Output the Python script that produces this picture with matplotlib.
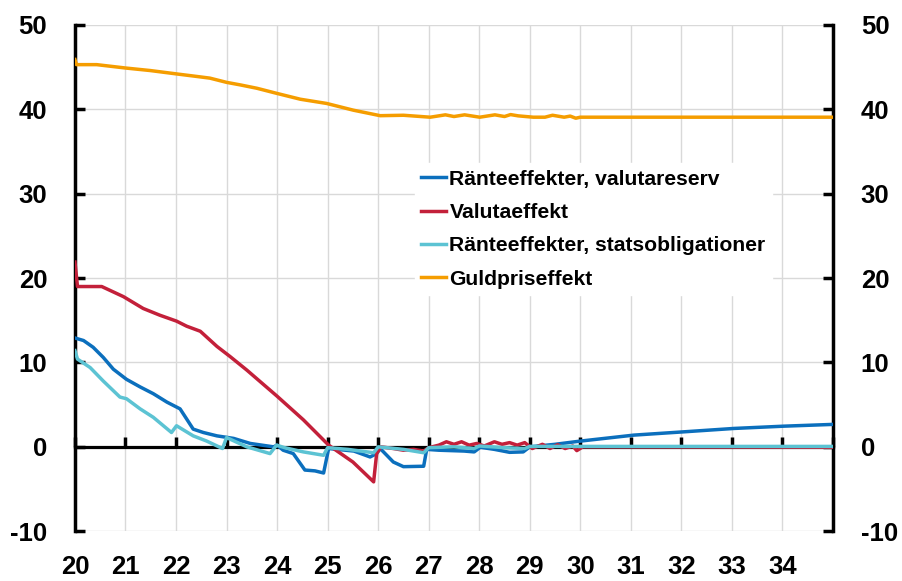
import matplotlib
matplotlib.use("Agg")
import matplotlib.pyplot as plt

plt.rcParams["font.family"] = ["Liberation Sans", "DejaVu Sans"]
plt.rcParams["font.weight"] = "bold"
plt.rcParams["axes.unicode_minus"] = False

# Series (x = year, 20 = 2020)
blue_x = [20.0, 20.17, 20.36, 20.56, 20.76, 21.02, 21.29, 21.55, 21.82, 22.08,
          22.34, 22.54, 22.81, 23.14, 23.47, 23.93, 24.0, 24.12, 24.32, 24.55,
          24.75, 24.92, 25.02, 25.52, 25.84, 25.97, 26.04, 26.30, 26.5, 26.9,
          26.96, 27.2, 27.45, 27.7, 27.9, 28.02, 28.3, 28.6, 28.87, 29.0,
          29.5, 30.0, 31.06, 32.05, 33.04, 34.03, 35.0]
blue_y = [12.9, 12.6, 11.8, 10.6, 9.2, 8.0, 7.1, 6.3, 5.3, 4.5,
          2.1, 1.7, 1.3, 1.0, 0.4, 0.0, 0.2, -0.4, -0.8, -2.75,
          -2.85, -3.1, -0.2, -0.5, -1.2, -0.8, -0.2, -1.8, -2.35, -2.3,
          -0.3, -0.4, -0.45, -0.5, -0.6, -0.05, -0.3, -0.65, -0.6, 0.0,
          0.3, 0.68, 1.39, 1.78, 2.18, 2.45, 2.66]

red_x = [20.0, 20.05, 20.53, 20.96, 21.35, 21.68, 22.01, 22.21, 22.48, 22.81,
         23.07, 23.40, 24.0, 24.52, 25.02, 25.5, 25.91, 25.97, 26.05, 26.3,
         26.5, 26.7, 26.9, 27.0, 27.2, 27.35, 27.5, 27.65, 27.8, 27.95,
         28.1, 28.3, 28.45, 28.6, 28.75, 28.9, 29.05, 29.25, 29.4, 29.55,
         29.7, 29.85, 29.93, 30.05, 35.0]
red_y = [21.9, 19.0, 19.0, 17.8, 16.4, 15.6, 14.9, 14.3, 13.7, 11.9,
         10.7, 9.1, 6.0, 3.2, 0.2, -1.8, -4.15, -0.8, 0.0, -0.2,
         -0.4, -0.3, -0.5, -0.1, 0.2, 0.6, 0.3, 0.6, 0.2, 0.4,
         0.1, 0.6, 0.3, 0.5, 0.2, 0.5, -0.2, 0.3, -0.2, 0.25,
         -0.2, 0.1, -0.45, 0.0, -0.05]

cyan_x = [20.0, 20.05, 20.3, 20.56, 20.89, 21.02, 21.29, 21.55, 21.91, 22.01,
          22.34, 22.6, 22.92, 23.0, 23.4, 23.86, 23.99, 24.15, 24.52, 24.92,
          25.0, 25.4, 25.91, 26.0, 26.5, 26.9, 27.0, 27.5, 27.9, 28.0,
          28.5, 28.9, 29.0, 35.0]
cyan_y = [11.4, 10.4, 9.4, 7.8, 5.9, 5.7, 4.5, 3.5, 1.7, 2.5,
          1.3, 0.7, -0.2, 1.1, 0.0, -0.8, 0.2, -0.1, -0.6, -1.0,
          -0.1, -0.3, -0.7, 0.0, -0.3, -0.7, -0.1, 0.0, -0.2, 0.1,
          -0.1, -0.2, 0.05, 0.05]

gold_x = [20.0, 20.03, 20.43, 21.0, 21.49, 22.01, 22.41, 22.67, 23.0, 23.27,
          23.6, 23.99, 24.46, 24.98, 25.51, 26.04, 26.5, 27.03, 27.33, 27.5,
          27.71, 28.01, 28.31, 28.5, 28.62, 28.77, 29.07, 29.3, 29.45, 29.68,
          29.8, 29.91, 30.0, 35.0]
gold_y = [45.9, 45.3, 45.3, 44.9, 44.6, 44.2, 43.9, 43.7, 43.2, 42.9,
          42.5, 41.9, 41.2, 40.7, 39.9, 39.25, 39.3, 39.07, 39.35, 39.15,
          39.35, 39.07, 39.35, 39.15, 39.38, 39.23, 39.07, 39.07, 39.3, 39.07,
          39.2, 38.95, 39.07, 39.07]

labels = ["Ränteeffekter, valutareserv", "Valutaeffekt",
          "Ränteeffekter, statsobligationer", "Guldpriseffekt"]
colors = ["#0b6fbd", "#c3203a", "#5cc3d3", "#f59d00"]

years = list(range(20, 36))
year_labels = [str(y) for y in range(20, 35)]
yticks = [-10, 0, 10, 20, 30, 40, 50]

fig = plt.figure(figsize=(9.02, 5.81), dpi=100)
ax = fig.add_axes([0.0831, 0.0857, 0.8404, 0.8713])

series = [(blue_x, blue_y), (red_x, red_y), (cyan_x, cyan_y), (gold_x, gold_y)]
for (xs, ys), lab, col in zip(series, labels, colors):
    ax.plot(xs, ys, color=col, lw=2.5, label=lab, zorder=3)

ax.set_xlim(20, 35)
ax.set_ylim(-10, 50)
ax.set_xticks(years)
ax.set_yticks(yticks)
ax.grid(True, color="#d9d9d9", lw=1)
ax.set_axisbelow(True)

# zero line with upward ticks
ax.spines["bottom"].set_position(("data", 0))
ax.spines["bottom"].set_linewidth(2.3)
ax.spines["top"].set_visible(False)
for s in ["left", "right"]:
    ax.spines[s].set_linewidth(2.5)
ax.tick_params(axis="x", direction="in", length=7, width=2.5, labelbottom=False)
ax.tick_params(axis="y", direction="in", length=7, width=2.5,
               left=True, right=True, labelleft=True, labelright=True,
               labelsize=18.5, pad=20)
for t in ax.yaxis.get_major_ticks():
    t.label1.set_fontweight("bold")
    t.label2.set_fontweight("bold")

# year labels at the bottom of the plot area
sec = ax.secondary_xaxis("bottom")
sec.spines["bottom"].set_visible(False)
sec.set_xticks(list(range(20, 35)), year_labels)
sec.tick_params(length=0, pad=17, labelsize=18.5)
for lbl in sec.get_xticklabels():
    lbl.set_fontweight("bold")

leg = ax.legend(loc="upper left", bbox_to_anchor=(0.4596, 0.719),
                bbox_transform=fig.transFigure, frameon=True, fancybox=False,
                edgecolor="white", facecolor="white", framealpha=1,
                borderpad=0.3, borderaxespad=0, handlelength=1.2,
                handletextpad=0.15, labelspacing=0.68,
                prop={"size": 15.2, "weight": "bold"})
for h in leg.get_lines():
    h.set_linewidth(2.5)

fig.savefig("out.png", dpi=100)
